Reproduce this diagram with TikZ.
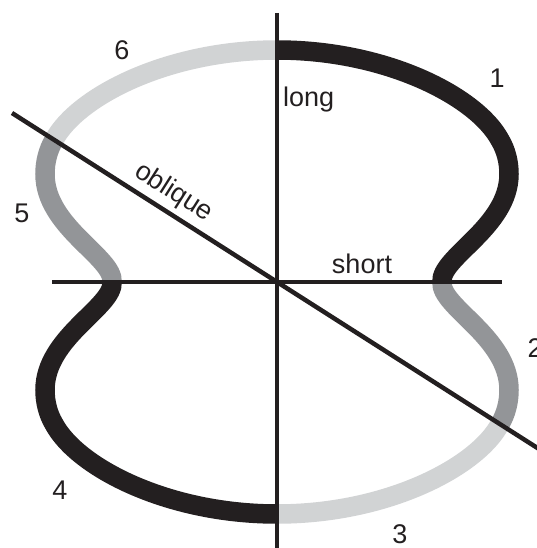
\documentclass[tikz,border=0pt]{standalone}
\usepackage{fontspec}
\setmainfont{Liberation Sans}
\usepackage{xcolor}
\usetikzlibrary{calc}

\definecolor{ink}{HTML}{231F20}
\definecolor{midgray}{HTML}{939598}
\definecolor{lightgray}{HTML}{D1D3D4}

\begin{document}
\begin{tikzpicture}[
    x=1pt, y=-1pt,
    seg/.style={line width=19.5pt},
    axis/.style={draw=ink, line width=4.5pt},
    num/.style={font=\fontsize{27}{27}\selectfont, text=ink, inner sep=0pt},
    lbl/.style={font=\fontsize{27}{27}\selectfont, text=ink, inner sep=0pt},
]
\useasboundingbox (0,0) rectangle (537,548);

% --- key points of the outline ---
\coordinate (O)    at (277,282);
\coordinate (top)  at (277,50);
\coordinate (bot)  at (277,514);
\coordinate (wR)   at (442,282);
\coordinate (wL)   at (112,282);
\coordinate (mR)   at (509,174);
\coordinate (mL)   at (45,390);
\coordinate (xR)   at (500,424);
\coordinate (xL)   at (54,140);

% --- the six pieces of the outline ---
% 1: top -> right waist
\draw[seg, ink] (top) .. controls (387,50) and (477,97) .. (500,140)
    .. controls (506,150) and (509,162) .. (mR)
    .. controls (509,227) and (440,257) .. (wR);
% 2: right waist -> oblique
\draw[seg, midgray] (wR) .. controls (440,307) and (509,337) .. (509,390)
    .. controls (509,402) and (506,414) .. (xR);
% 3: oblique -> bottom
\draw[seg, lightgray] (xR) .. controls (477,467) and (387,514) .. (bot);
% 4: bottom -> left waist
\draw[seg, ink] (bot) .. controls (167,514) and (77,467) .. (54,424)
    .. controls (48,414) and (45,402) .. (mL)
    .. controls (45,337) and (114,307) .. (wL);
% 5: left waist -> oblique
\draw[seg, midgray] (wL) .. controls (114,257) and (45,227) .. (45,174)
    .. controls (45,162) and (48,150) .. (xL);
% 6: oblique -> top
\draw[seg, lightgray] (xL) .. controls (77,97) and (167,50) .. (top);

% --- axes ---
\coordinate (longA)  at (277,13);
\coordinate (longB)  at (277,552);
\coordinate (shortA) at (52,282);
\coordinate (shortB) at (502,282);
\coordinate (oblA)   at (12,113);
\coordinate (oblB)   at (550,456);

\draw[axis] (longA) -- (longB);
\draw[axis] (shortA) -- (shortB);
\draw[axis] (oblA) -- (oblB);

\path (oblA) -- (O) node[lbl, pos=0.57, sloped, anchor=south, inner sep=7pt] (oblique) {oblique};
\node[lbl, anchor=base west] (long)  at (283,107) {long};
\node[lbl, anchor=base]      (short) at (362,273) {short};

% --- piece numbers ---
\node[num] (n1) at (497,78)  {1};
\node[num] (n2) at (535,348) {2};
\node[num] (n3) at (400,534) {3};
\node[num] (n4) at (60,490)  {4};
\node[num] (n5) at (22,213)  {5};
\node[num] (n6) at (122,50)  {6};

\end{tikzpicture}
\end{document}
